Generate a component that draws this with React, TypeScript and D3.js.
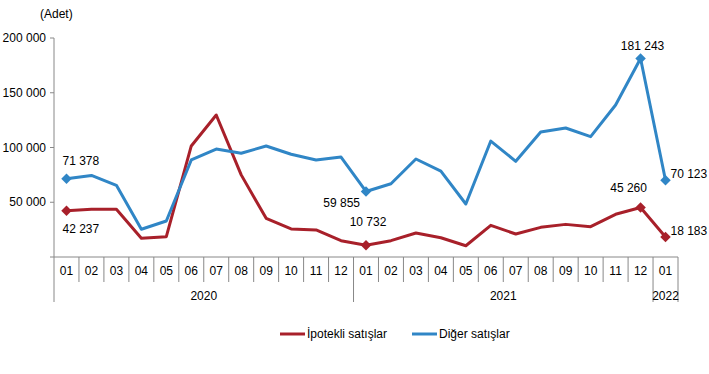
import React from 'react';
import * as d3 from 'd3';

// ─── Data ────────────────────────────────────────────
const months = ['01','02','03','04','05','06','07','08','09','10','11','12',
                '01','02','03','04','05','06','07','08','09','10','11','12','01'];
const years = [
  { label: '2020', start: 0, end: 12 },
  { label: '2021', start: 12, end: 24 },
  { label: '2022', start: 24, end: 25 },
];
const ipotekli = [42237, 43500, 43600, 17100, 18600, 101400, 129700, 75000, 35300, 25600, 24700, 14900,
                  10732, 14900, 21900, 17600, 10300, 28900, 21000, 27100, 29800, 27700, 39000, 45260, 18183];
const diger = [71378, 74500, 65500, 25300, 32900, 88600, 98600, 94700, 101400, 93800, 88600, 91300,
               59855, 66900, 89500, 78500, 48400, 105900, 87400, 114200, 117800, 109900, 138800, 181243, 70123];
const yTicks = [50000, 100000, 150000, 200000];
const markerIdx = [0, 12, 23, 24];

const RED = '#a8202a';
const BLUE = '#3086c6';
const FONT = 'Arial, "Liberation Sans", sans-serif';
const NARROW = '"Liberation Sans Narrow", "Arial Narrow", Arial, sans-serif';

const fmt = (v: number) => d3.format(',')(v).replace(/,/g, ' ');

// label placement per series point: [dx, dy, anchor]
const redLabels: Record<number, [number, number, string]> = {
  0: [-4, 22, 'start'], 12: [2, -19, 'middle'], 23: [-12, -15, 'middle'], 24: [5, -2, 'start'],
};
const blueLabels: Record<number, [number, number, string]> = {
  0: [-4, -14, 'start'], 12: [-6, 16, 'end'], 23: [2, -9, 'middle'], 24: [5, -2, 'start'],
};

export default function App() {
  const width = 709, height = 374;
  const x = d3.scaleBand<number>().domain(d3.range(months.length)).range([54, 678]).padding(0);
  const y = d3.scaleLinear().domain([0, 200000]).range([257, 38]);
  const cx = (i: number) => (x(i) ?? 0) + x.bandwidth() / 2;
  const line = d3.line<number>().x((_, i) => cx(i)).y(d => y(d));
  const diamond = d3.symbol().type(d3.symbolDiamond2).size(70)() as string;

  const series = [
    { name: 'İpotekli satışlar', data: ipotekli, color: RED, labels: redLabels },
    { name: 'Diğer satışlar', data: diger, color: BLUE, labels: blueLabels },
  ];

  return (
    <svg width={width} height={height} style={{ position: 'absolute', left: 0, top: 0, background: '#fff' }}
      fontFamily={FONT}>
      <text x={40} y={18} fontSize={12} fill="#000">(Adet)</text>

      {/* y axis */}
      <line x1={54} x2={54} y1={y(200000)} y2={302} stroke="#888" />
      {[0, ...yTicks].map(t => (
        <line key={t} x1={50} x2={54} y1={y(t)} y2={y(t)} stroke="#888" />
      ))}
      {yTicks.map(t => (
        <text key={t} x={46} y={y(t) + 4} fontSize={12} textAnchor="end" fill="#000">{fmt(t)}</text>
      ))}

      {/* x axis */}
      <line x1={54} x2={678} y1={y(0)} y2={y(0)} stroke="#888" />
      {months.map((_, i) => i > 0 && (
        <line key={'t' + i} x1={x(i)} x2={x(i)} y1={y(0)} y2={years.some(yr => yr.start === i) ? 302 : 282} stroke="#888" />
      ))}
      <line x1={678} x2={678} y1={y(0)} y2={302} stroke="#888" />
      {months.map((m, i) => (
        <text key={'m' + i} x={cx(i)} y={275} fontSize={12} textAnchor="middle" fontFamily={NARROW} fill="#000">{m}</text>
      ))}
      {years.map(yr => (
        <text key={yr.label} x={((x(yr.start) ?? 0) + (x(yr.end - 1) ?? 0) + x.bandwidth()) / 2} y={300}
          fontSize={12} textAnchor="middle" fontFamily={NARROW} fill="#000">{yr.label}</text>
      ))}

      {/* series */}
      {series.map(s => (
        <g key={s.name}>
          <path d={line(s.data) ?? ''} fill="none" stroke={s.color} strokeWidth={3} strokeLinejoin="round" />
          {markerIdx.map(i => (
            <path key={i} d={diamond} transform={`translate(${cx(i)},${y(s.data[i])})`} fill={s.color} />
          ))}
          {markerIdx.map(i => {
            const [dx, dy, anchor] = s.labels[i];
            return (
              <text key={'l' + i} x={cx(i) + dx} y={y(s.data[i]) + dy} fontSize={12} textAnchor={anchor as any} fill="#000">
                {fmt(s.data[i])}
              </text>
            );
          })}
        </g>
      ))}

      {/* legend */}
      {series.map((s, k) => {
        const lx = k === 0 ? 280 : 412;
        return (
          <g key={'lg' + k}>
            <line x1={lx} x2={lx + 25} y1={334} y2={334} stroke={s.color} strokeWidth={3} />
            <text x={lx + 27} y={338} fontSize={12} fontFamily={NARROW} fill="#000">{s.name}</text>
          </g>
        );
      })}
    </svg>
  );
}
